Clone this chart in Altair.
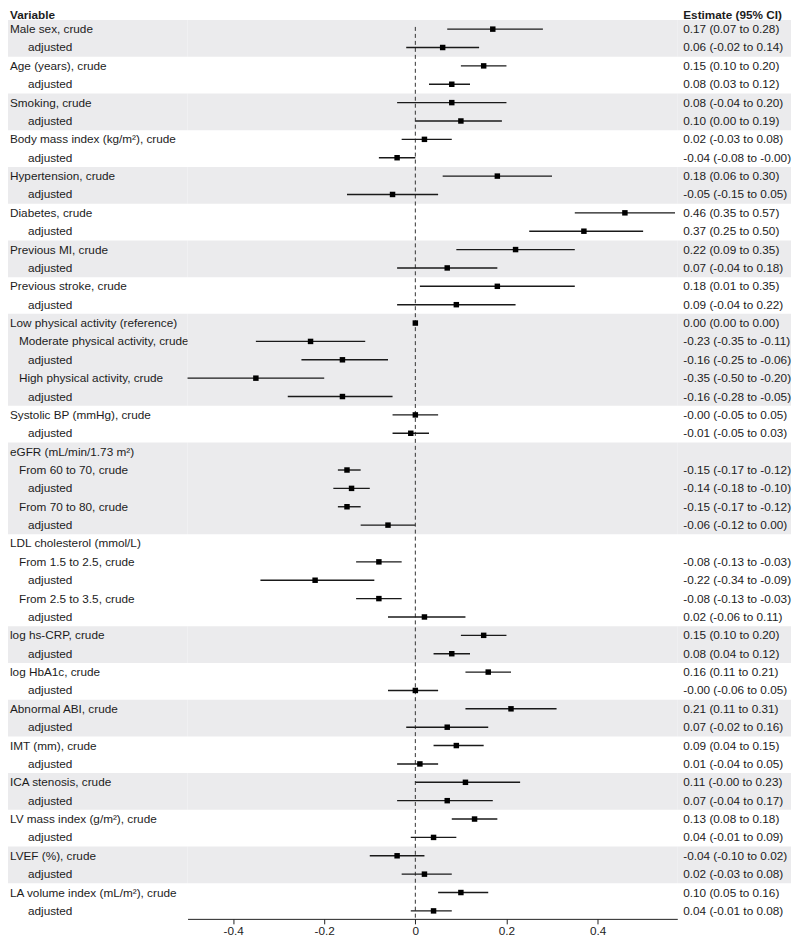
import altair as alt
import pandas as pd

# ---------------- data ----------------
labels = [
    "Male sex, crude", "adjusted",
    "Age (years), crude", "adjusted",
    "Smoking, crude", "adjusted",
    "Body mass index (kg/m²),  crude", "adjusted",
    "Hypertension, crude", "adjusted",
    "Diabetes, crude", "adjusted",
    "Previous MI, crude", "adjusted",
    "Previous stroke, crude", "adjusted",
    "Low physical activity (reference)",
    "Moderate physical activity, crude", "adjusted",
    "High physical activity, crude", "adjusted",
    "Systolic BP (mmHg), crude", "adjusted",
    "eGFR (mL/min/1.73 m²)",
    "From 60 to 70, crude", "adjusted",
    "From 70 to 80, crude", "adjusted",
    "LDL cholesterol (mmol/L)",
    "From 1.5 to 2.5, crude", "adjusted",
    "From 2.5 to 3.5, crude", "adjusted",
    "log hs-CRP, crude", "adjusted",
    "log HbA1c, crude", "adjusted",
    "Abnormal ABI, crude", "adjusted",
    "IMT (mm), crude", "adjusted",
    "ICA stenosis, crude", "adjusted",
    "LV mass index (g/m²),  crude", "adjusted",
    "LVEF (%), crude", "adjusted",
    "LA volume index (mL/m²),  crude", "adjusted",
]
indent = [
    0, 2, 0, 2, 0, 2, 0, 2, 0, 2, 0, 2, 0, 2, 0, 2,
    0, 1, 2, 1, 2,
    0, 2,
    0, 1, 2, 1, 2,
    0, 1, 2, 1, 2,
    0, 2, 0, 2, 0, 2, 0, 2, 0, 2, 0, 2, 0, 2, 0, 2,
]
estimate = [
    0.17, 0.06, 0.15, 0.08, 0.08, 0.10, 0.02, -0.04, 0.18, -0.05,
    0.46, 0.37, 0.22, 0.07, 0.18, 0.09,
    0.00, -0.23, -0.16, -0.35, -0.16,
    -0.0, -0.01,
    None, -0.15, -0.14, -0.15, -0.06,
    None, -0.08, -0.22, -0.08, 0.02,
    0.15, 0.08, 0.16, -0.0, 0.21, 0.07, 0.09, 0.01, 0.11, 0.07,
    0.13, 0.04, -0.04, 0.02, 0.10, 0.04,
]
ci_low = [
    0.07, -0.02, 0.10, 0.03, -0.04, 0.00, -0.03, -0.08, 0.06, -0.15,
    0.35, 0.25, 0.09, -0.04, 0.01, -0.04,
    0.00, -0.35, -0.25, -0.50, -0.28,
    -0.05, -0.05,
    None, -0.17, -0.18, -0.17, -0.12,
    None, -0.13, -0.34, -0.13, -0.06,
    0.10, 0.04, 0.11, -0.06, 0.11, -0.02, 0.04, -0.04, -0.0, -0.04,
    0.08, -0.01, -0.10, -0.03, 0.05, -0.01,
]
ci_high = [
    0.28, 0.14, 0.20, 0.12, 0.20, 0.19, 0.08, -0.0, 0.30, 0.05,
    0.57, 0.50, 0.35, 0.18, 0.35, 0.22,
    0.00, -0.11, -0.06, -0.20, -0.05,
    0.05, 0.03,
    None, -0.12, -0.10, -0.12, 0.00,
    None, -0.03, -0.09, -0.03, 0.11,
    0.20, 0.12, 0.21, 0.05, 0.31, 0.16, 0.15, 0.05, 0.23, 0.17,
    0.18, 0.09, 0.02, 0.08, 0.16, 0.08,
]
# first row of each variable group (bands alternate grey / white)
group_starts = [0, 2, 4, 6, 8, 10, 12, 14, 16, 21, 23, 28, 33, 35, 37, 39, 41, 43, 45, 47]
x_ticks = [-0.4, -0.2, 0.0, 0.2, 0.4]

# ---------------- tables ----------------
n = len(labels)
rows = pd.DataFrame({
    "row": list(range(n)),
    "label": labels,
    "level": indent,
    "est": estimate,
    "lo": ci_low,
    "hi": ci_high,
})
rows["text"] = [
    "" if e is None else f"{e:.2f} ({l:.2f} to {h:.2f})"
    for e, l, h in zip(estimate, ci_low, ci_high)
]
pts = rows.dropna(subset=["est"]).copy()

bands = []
for g, s in enumerate(group_starts):
    e = group_starts[g + 1] - 1 if g + 1 < len(group_starts) else n - 1
    if g % 2 == 0:
        bands.append({"y0": s - 0.5, "y1": e + 0.5})
band_df = pd.DataFrame(bands)

HEADER_ROW = -0.771
Y_DOMAIN = [-1.0317, 48.434]
header_left = pd.DataFrame({"row": [HEADER_ROW], "level": [0], "t": ["Variable"]})
header_right = pd.DataFrame({"row": [HEADER_ROW], "t": ["Estimate (95% CI)"]})
zero_line = pd.DataFrame({"x": [0.0], "y0": [-0.12], "y1": [Y_DOMAIN[1]]})

# ---------------- styling ----------------
FONT = "Liberation Sans"
FS = 11.8
TXT = "#1c1c1c"
GREY = "#EBEBED"
H = 911
W_LEFT, W_MID, W_RIGHT = 180, 491, 114

yscale = alt.Scale(domain=Y_DOMAIN, reverse=True, nice=False, zero=False)
xscale = alt.Scale(domain=[-0.5, 0.575], nice=False, zero=False)
xaxis = alt.Axis(
    values=x_ticks, title=None, grid=False,
    labelExpr="datum.value == 0 ? '0' : (datum.value < 0 ? '-' + format(-datum.value, '.1f') : format(datum.value, '.1f'))",
    labelFont=FONT, labelFontSize=FS, labelColor=TXT, labelPadding=2,
    domainColor="#222222", domainWidth=1, tickColor="#222222", tickSize=5, tickWidth=1,
)


def band_layer():
    return alt.Chart(band_df).mark_rect(color=GREY).encode(
        y=alt.Y("y0:Q", scale=yscale, axis=None), y2="y1:Q"
    )


# left panel: variable names
level_scale = alt.Scale(domain=[0, 2], range=[2, 20])
left = alt.layer(
    band_layer(),
    alt.Chart(rows).mark_text(align="left", baseline="middle", font=FONT, fontSize=FS, color=TXT).encode(
        x=alt.X("level:Q", scale=level_scale, axis=None),
        y=alt.Y("row:Q", scale=yscale, axis=None),
        text="label:N",
    ),
    alt.Chart(header_left).mark_text(align="left", baseline="middle", font=FONT, fontSize=FS,
                                     fontWeight="bold", color=TXT).encode(
        x=alt.X("level:Q", scale=level_scale, axis=None),
        y=alt.Y("row:Q", scale=yscale, axis=None),
        text="t:N",
    ),
).properties(width=W_LEFT, height=H)

# middle panel: forest plot
mid = alt.layer(
    band_layer(),
    alt.Chart(zero_line).mark_rule(color="#333333", strokeWidth=1, strokeDash=[4, 3]).encode(
        x=alt.X("x:Q", scale=xscale, axis=xaxis),
        y=alt.Y("y0:Q", scale=yscale, axis=None), y2="y1:Q",
    ),
    alt.Chart(pts).mark_rule(color="#1a1a1a", strokeWidth=1.4).encode(
        x=alt.X("lo:Q", scale=xscale, axis=xaxis), x2="hi:Q",
        y=alt.Y("row:Q", scale=yscale, axis=None),
    ),
    alt.Chart(pts).mark_square(color="#000000", opacity=1, size=30).encode(
        x=alt.X("est:Q", scale=xscale, axis=xaxis),
        y=alt.Y("row:Q", scale=yscale, axis=None),
    ),
).properties(width=W_MID, height=H)

# right panel: estimates
right = alt.layer(
    band_layer(),
    alt.Chart(pts).mark_text(align="left", baseline="middle", font=FONT, fontSize=FS, color=TXT).encode(
        x=alt.value(6),
        y=alt.Y("row:Q", scale=yscale, axis=None),
        text="text:N",
    ),
    alt.Chart(header_right).mark_text(align="left", baseline="middle", font=FONT, fontSize=FS,
                                      fontWeight="bold", color=TXT).encode(
        x=alt.value(6),
        y=alt.Y("row:Q", scale=yscale, axis=None),
        text="t:N",
    ),
).properties(width=W_RIGHT, height=H)

chart = alt.hconcat(left, mid, right, spacing=0, bounds="flush", padding=0).resolve_scale(
    y="independent", x="independent"
).configure(
    background="white",
    view=alt.ViewConfig(stroke=None),
)

chart.save("out.html", embed_options={"renderer": "svg", "actions": False})
